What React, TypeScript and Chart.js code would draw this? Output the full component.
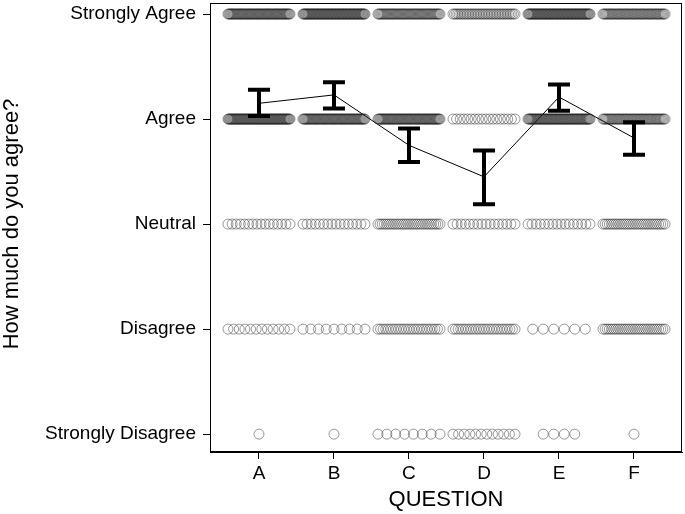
import React, { useEffect, useRef } from "react";
import { Chart, registerables } from "chart.js";

Chart.register(...registerables);

const categories = ["A", "B", "C", "D", "E", "F"];
const levelLabels = ["Strongly Disagree", "Disagree", "Neutral", "Agree", "Strongly Agree"];

// number of responses per level, per question
const stronglyDisagree = [1, 1, 8, 12, 4, 1];
const disagree = [12, 9, 25, 25, 6, 30];
const neutral = [16, 16, 30, 16, 16, 30];
const agree = [80, 70, 70, 18, 75, 55];
const stronglyAgree = [70, 80, 58, 40, 80, 55];

// mean and confidence interval per question
const means = [4.15, 4.23, 3.75, 3.45, 4.21, 3.82];
const ciLower = [4.03, 4.1, 3.59, 3.19, 4.08, 3.66];
const ciUpper = [4.28, 4.35, 3.91, 3.7, 4.33, 3.97];

const FONT = '"Liberation Sans", Arial, sans-serif';

function buildPoints() {
  const levels = [stronglyDisagree, disagree, neutral, agree, stronglyAgree];
  const pts: { x: number; y: number }[] = [];
  levels.forEach((counts, li) => {
    counts.forEach((n, ci) => {
      if (n <= 0) return;
      const step = n > 1 ? Math.min(0.14, 0.827 / (n - 1)) : 0;
      const span = step * (n - 1);
      for (let k = 0; k < n; k++) {
        pts.push({ x: ci - span / 2 + k * step, y: li + 1 });
      }
    });
  });
  return pts;
}

const overlay = {
  id: "overlay",
  afterDatasetsDraw(chart: any) {
    const { ctx, scales } = chart;
    const xs = scales.x;
    const ys = scales.y;
    ctx.save();
    ctx.strokeStyle = "#000";
    ctx.lineWidth = 4;
    ctx.lineCap = "butt";
    for (let i = 0; i < categories.length; i++) {
      const x = xs.getPixelForValue(i);
      const yt = ys.getPixelForValue(ciUpper[i]);
      const yb = ys.getPixelForValue(ciLower[i]);
      ctx.beginPath();
      ctx.moveTo(x, yt);
      ctx.lineTo(x, yb);
      ctx.moveTo(x - 11, yt);
      ctx.lineTo(x + 11, yt);
      ctx.moveTo(x - 11, yb);
      ctx.lineTo(x + 11, yb);
      ctx.stroke();
    }
    ctx.restore();
  },
  afterDraw(chart: any) {
    const { ctx, chartArea } = chart;
    ctx.save();
    ctx.strokeStyle = "#000";
    ctx.lineWidth = 1;
    const l = Math.round(chartArea.left) + 0.5;
    const t = Math.round(chartArea.top) + 0.5;
    const r = Math.round(chartArea.right) - 0.5;
    const b = Math.round(chartArea.bottom) - 0.5;
    ctx.strokeRect(l, t, r - l, b - t);
    ctx.fillStyle = "#000";
    ctx.font = `22px ${FONT}`;
    ctx.textAlign = "center";
    ctx.textBaseline = "middle";
    ctx.fillText("QUESTION", (chartArea.left + chartArea.right) / 2, 500);
    ctx.translate(12, 224);
    ctx.rotate(-Math.PI / 2);
    ctx.fillText("How much do you agree?", 0, 0);
    ctx.restore();
  },
};

export default function App() {
  const ref = useRef<HTMLCanvasElement | null>(null);
  useEffect(() => {
    document.body.style.margin = "0";
    const canvas = ref.current!;
    const chart = new Chart(canvas, {
      type: "scatter",
      data: {
        datasets: [
          {
            type: "scatter",
            data: buildPoints(),
            pointRadius: 5,
            pointStyle: "circle",
            backgroundColor: "rgba(0,0,0,0)",
            borderColor: "rgba(30,30,30,0.45)",
            borderWidth: 1,
          } as any,
          {
            type: "line",
            data: means.map((m, i) => ({ x: i, y: m })),
            borderColor: "#000",
            borderWidth: 1,
            pointRadius: 0,
            showLine: true,
            fill: false,
          } as any,
        ],
      },
      options: {
        responsive: false,
        animation: false,
        devicePixelRatio: 1,
        layout: { autoPadding: false, padding: { top: 3, right: 3, left: 0, bottom: 0 } },
        plugins: { legend: { display: false }, tooltip: { enabled: false } },
        scales: {
          x: {
            type: "linear",
            min: -0.653,
            max: 5.64,
            afterBuildTicks: (s: any) => {
              s.ticks = categories.map((_, i) => ({ value: i }));
            },
            ticks: {
              callback: (v: any) => categories[Math.round(v)] ?? "",
              color: "#000",
              font: { family: FONT, size: 19 },
              padding: 3,
              maxRotation: 0,
            },
            grid: { drawOnChartArea: false, drawTicks: true, tickLength: 7, color: "#000" },
            border: { display: true, color: "#000", width: 1 },
            afterFit: (s: any) => {
              s.height = 62;
              s.paddingLeft = 0;
              s.paddingRight = 0;
            },
          },
          y: {
            type: "linear",
            min: 0.83,
            max: 5.105,
            afterBuildTicks: (s: any) => {
              s.ticks = levelLabels.map((_, i) => ({ value: i + 1 }));
            },
            ticks: {
              callback: (v: any) => levelLabels[Math.round(v) - 1] ?? "",
              color: "#000",
              font: { family: FONT, size: 19 },
              padding: 7,
            },
            grid: { drawOnChartArea: false, drawTicks: true, tickLength: 7, color: "#000" },
            border: { display: true, color: "#000", width: 1 },
            afterFit: (s: any) => {
              s.width = 210;
              s.paddingTop = 0;
              s.paddingBottom = 0;
            },
          },
        },
      } as any,
      plugins: [overlay],
    });
    return () => chart.destroy();
  }, []);
  return (
    <div style={{ position: "fixed", left: 0, top: 0, width: 685, height: 514, background: "#fff" }}>
      <canvas ref={ref} width={685} height={514} style={{ width: 685, height: 514 }} />
    </div>
  );
}
